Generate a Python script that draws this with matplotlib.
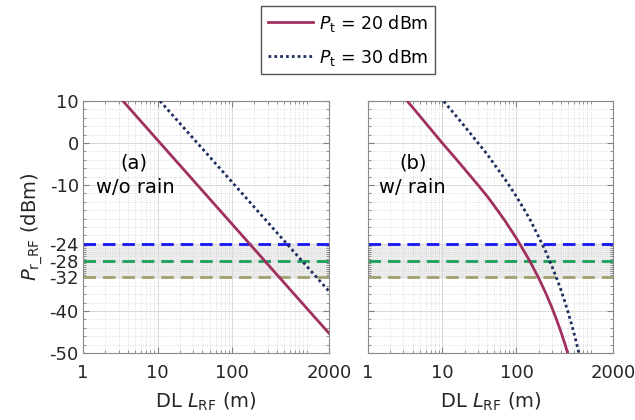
import numpy as np
import matplotlib
matplotlib.use("Agg")
import matplotlib.pyplot as plt
from matplotlib.ticker import FixedLocator, NullFormatter

plt.rcParams['font.family'] = ['DejaVu Sans']
plt.rcParams['mathtext.fontset'] = 'dejavusans'
plt.rcParams['axes.unicode_minus'] = False

# (a) without rain: straight lines on log-x
d_norain_20 = [3.4, 10, 100, 1000, 2000]
p_norain_20 = [10.1, 0.7, -19.3, -39.3, -45.3]
d_norain_30 = [10.8, 100, 1000, 2000]
p_norain_30 = [10.0, -9.3, -29.3, -35.3]

# (b) with rain: values
d_rain_20 = [3.4, 5, 7, 10, 15, 20, 30, 40, 50, 70, 100, 150, 200, 250, 300, 350, 400, 450, 500]
p_rain_20 = [9.95, 6.4, 3.3, 0.0, -3.6, -6.2, -9.9, -12.6, -14.9, -18.5, -22.7,
             -27.98, -32.2, -35.86, -39.16, -42.22, -45.1, -47.84, -50.48]
d_rain_30 = [10.5, 15, 20, 30, 40, 50, 70, 100, 150, 200, 250, 300, 350, 400, 450, 500, 550, 600, 650, 700]
p_rain_30 = [9.92, 6.66, 3.99, 0.13, -2.6, -5.0, -8.61, -12.74, -17.98, -22.4, -26.0, -29.3,
             -32.3, -35.1, -37.84, -40.48, -43.03, -45.5, -47.92, -50.28]

thresholds = [-24, -28, -32]
thr_colors = ['#1515f0', '#1aa05a', '#a3a070']

y_ticks = [10, 0, -10, -24, -28, -32, -40, -50]
x_ticks = [1, 10, 100, 2000]
x_ticklabels = ['1', '10', '100', '2000']

red = '#a0305f'
navy = '#1c2d5e'

fig = plt.figure(figsize=(6.35, 4.2), dpi=100)
ax1 = fig.add_axes([83/635, 67/420, 246/635, 252/420])
ax2 = fig.add_axes([368/635, 67/420, 245/635, 252/420])

minor_x = [m * 10**k for k in range(0, 4) for m in range(2, 10) if m * 10**k < 2000] + [1000]
minor_y = list(np.arange(-50, 10, 2)) + list(np.arange(-32, -24, 0.5))

panels = [
    (ax1, d_norain_20, p_norain_20, d_norain_30, p_norain_30, "(a)", "w/o rain", 4.8, 5.0),
    (ax2, d_rain_20, p_rain_20, d_rain_30, p_rain_30, "(b)", "w/ rain", 4.0, 4.0),
]

for ax, dx20, py20, dx30, py30, tag, cond, xtag, xcond in panels:
    ax.set_xscale('log')
    ax.set_xlim(1, 2000)
    ax.set_ylim(-50, 10)

    ax.axhspan(-32, -24, color='#efefef', zorder=0)
    ax.xaxis.set_major_locator(FixedLocator(x_ticks))
    ax.set_xticklabels(x_ticklabels)
    ax.xaxis.set_minor_locator(FixedLocator(minor_x))
    ax.xaxis.set_minor_formatter(NullFormatter())
    ax.yaxis.set_major_locator(FixedLocator(y_ticks))
    ax.yaxis.set_minor_locator(FixedLocator(minor_y))
    ax.grid(True, which='major', color='#d8d8d8', linewidth=0.7, zorder=0)
    ax.grid(True, which='minor', color='#d4d4d4', linestyle=':', linewidth=0.6, zorder=0)
    ax.set_axisbelow(True)

    for thr, c in zip(thresholds, thr_colors):
        ax.axhline(thr, color=c, linestyle=(0, (4.5, 2.5)), linewidth=2, zorder=2)

    l20, = ax.plot(dx20, py20, color=red, linewidth=2, zorder=3)
    l30, = ax.plot(dx30, py30, color=navy, linestyle=(0, (1, 1.1)), linewidth=2, zorder=3)

    ax.text(xtag, -4.8, tag, fontsize=14, ha='center', va='center')
    ax.text(xcond, -10.5, cond, fontsize=14, ha='center', va='center')

    ax.tick_params(which='both', direction='in', top=True, right=True, colors='#7f7f7f',
                   labelcolor='#262626', labelsize=13)
    ax.tick_params(axis='x', which='major', pad=8)
    ax.tick_params(axis='y', which='major', pad=3)
    ax.tick_params(which='major', length=4)
    ax.tick_params(which='minor', length=2)
    for s in ax.spines.values():
        s.set_color('#8a8a8a')
        s.set_linewidth(0.8)
    ax.set_xlabel(r"DL $L_{\mathrm{RF}}$ (m)", fontsize=14, color='#262626', labelpad=6)

ax1.set_ylabel(r"$P_{\mathrm{r\_RF}}$ (dBm)", fontsize=14, color='#262626', labelpad=3)
ax2.set_yticklabels([])

fig.legend([l20, l30], [r"$P_{\mathrm{t}}$ = 20 dBm", r"$P_{\mathrm{t}}$ = 30 dBm"],
           loc='upper center', bbox_to_anchor=(348/635, 0.995), fontsize=12.5,
           handlelength=2.6, frameon=True, fancybox=False, edgecolor='#555555',
           framealpha=1, borderpad=0.4, labelspacing=0.75, handletextpad=0.35,
           borderaxespad=0.2)

fig.savefig("out.png", dpi=100)
